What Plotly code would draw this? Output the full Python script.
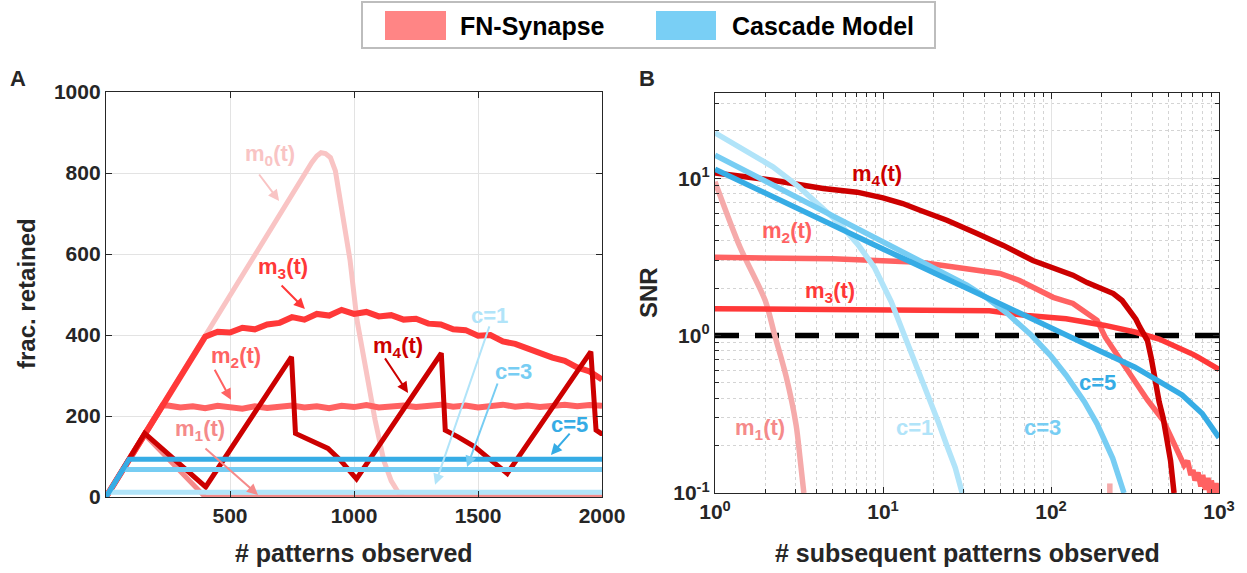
import math
import plotly.graph_objects as go

W, H = 1247, 573
FONT = "Liberation Sans, Arial, Helvetica, sans-serif"
INK = "#262626"

# ---------------- Panel A: fraction retained vs. patterns observed ----------------
a_m0_t = [0, 400, 600, 800, 830, 850, 867, 885, 905, 925, 943, 984, 1012, 1050, 1085, 1120, 1150, 1180, 1200, 2000]
a_m0_v = [0, 400, 600, 800, 826, 842, 850, 848, 838, 805, 733, 585, 437, 300, 190, 90, 40, 10, 0, 0]

a_m1_t = [0, 155, 400, 2000]
a_m1_v = [0, 155, 0, 0]

a_m2_t = [0, 228, 250, 300, 350, 400, 450, 500, 550, 600, 650, 700, 750, 800, 850, 900, 950, 1000,
          1050, 1100, 1150, 1200, 1250, 1300, 1350, 1400, 1450, 1500, 1550, 1600, 1650, 1700,
          1750, 1800, 1850, 1900, 1950, 2000]
a_m2_v = [0, 226, 226, 221, 224, 219, 225, 221, 218, 224, 220, 223, 226, 221, 224, 219, 225, 222,
          227, 221, 224, 226, 222, 225, 228, 223, 226, 221, 225, 228, 223, 226,
          222, 225, 228, 224, 227, 225]

a_m3_t = [0, 400, 450, 500, 550, 600, 650, 700, 750, 800, 850, 900, 950, 1000, 1050, 1100, 1150,
          1200, 1250, 1300, 1350, 1400, 1450, 1500, 1550, 1600, 1650, 1700, 1750, 1800, 1850,
          1900, 1950, 2000]
a_m3_v = [0, 396, 408, 406, 418, 414, 426, 430, 444, 438, 452, 448, 462, 452, 457, 446, 449,
          438, 440, 428, 426, 414, 412, 398, 400, 384, 378, 366, 356, 344, 336,
          320, 310, 290]

a_m4_t = [0, 156, 402, 748, 764, 830, 895, 945, 1010, 1352, 1368, 1421, 1487, 1552, 1618, 1955, 1976, 1996, 2000]
a_m4_v = [0, 157, 25, 346, 157, 140, 120, 91, 45, 355, 165, 148, 124, 91, 58, 359, 165, 157, 157]

a_c1_t = [0, 12, 2000]
a_c1_v = [0, 12, 12]
a_c3_t = [0, 68, 2000]
a_c3_v = [0, 68, 68]
a_c5_t = [0, 93, 2000]
a_c5_v = [0, 93, 93]

a_xticks = [500, 1000, 1500, 2000]
a_yticks = [0, 200, 400, 600, 800, 1000]

# ---------------- Panel B: SNR vs. subsequent patterns (log-log) ----------------
b_m1_x = [1, 1.41, 1.99, 2.27, 2.65, 3.04, 3.2, 3.38, None, 224, 224]
b_m1_y = [9.5, 3.64, 1.67, 1.0, 0.55, 0.27, 0.17, 0.1, None, 0.1, 0.115]

b_m2_x = [1, 5, 16.6, 32.9, 49.6, 65, 86, 103, 135, 164, 188, 210, 260, 320, 375, 465, 540,
          560, 590, 620, 650, 680, 700, 720, 750, 780, 800, 830, 860, 880, 900, 930, 960, 1000]
b_m2_y = [3.14, 3.08, 2.92, 2.67, 2.48, 2.24, 1.93, 1.75, 1.6, 1.38, 1.25, 0.98, 0.69, 0.49, 0.39, 0.29, 0.21,
          0.19, 0.17, 0.15, 0.16, 0.13, 0.14, 0.12, 0.135, 0.11, 0.13, 0.105, 0.125, 0.10, 0.12, 0.10, 0.115, 0.10]

b_m3_x = [1, 10, 43, 72, 123, 210, 320, 440, 520, 600, 650, 700, 750, 800, 850, 900, 950, 1000]
b_m3_y = [1.48, 1.46, 1.44, 1.34, 1.28, 1.16, 1.05, 0.95, 0.88, 0.82, 0.80, 0.76, 0.73, 0.70, 0.68, 0.66, 0.63, 0.61]

b_m4_x = [1, 2.21, 4.4, 7.0, 10, 13.1, 16.6, 24, 36, 52, 78, 103, 135, 164, 200, 235, 265, 295, 320,
          338, 360, 375, 395, 417, 440, 465, 490, 515, 540]
b_m4_y = [10.8, 9.7, 8.6, 8.15, 7.5, 6.9, 6.25, 5.4, 4.47, 3.74, 3.0, 2.71, 2.42, 2.17, 2.0, 1.85, 1.67, 1.44, 1.27,
          1.13, 1.0, 0.93, 0.72, 0.49, 0.38, 0.30, 0.21, 0.16, 0.1]

b_c1_x = [1, 1.585, 2.21, 3.16, 4.47, 5.5, 7.08, 8.91, 11.2, 13.5, 15.8, 18.4, 21.4, 24.0, 26.9, 29.6]
b_c1_y = [19.4, 14.6, 11.8, 8.8, 6.4, 5.16, 3.8, 2.7, 1.64, 1.0, 0.65, 0.43, 0.28, 0.2, 0.145, 0.1]

b_c3_x = [1, 3.16, 10, 22.1, 31.6, 41, 55, 76.7, 100, 123, 158, 188, 233, 272]
b_c3_y = [14.0, 7.48, 3.99, 2.59, 2.09, 1.75, 1.38, 1.0, 0.74, 0.56, 0.38, 0.275, 0.166, 0.1]

b_c5_x = [1, 3.16, 10, 31.6, 78, 123, 200, 316, 447, 603, 794, 1000]
b_c5_y = [11.4, 6.3, 3.55, 2.0, 1.26, 1.0, 0.79, 0.63, 0.51, 0.42, 0.32, 0.225]

b_threshold = 1.0
b_xticks = [1, 10, 100, 1000]
b_xticktext = ["10<sup>0</sup>", "10<sup>1</sup>", "10<sup>2</sup>", "10<sup>3</sup>"]
b_yticks = [0.1, 1, 10]
b_yticktext = ["10<sup>-1</sup>", "10<sup>0</sup>", "10<sup>1</sup>"]
b_xminor = [2, 3, 4, 5, 6, 7, 8, 9, 20, 30, 40, 50, 60, 70, 80, 90,
            200, 300, 400, 500, 600, 700, 800, 900]
b_yminor = [0.2, 0.3, 0.4, 0.5, 0.6, 0.7, 0.8, 0.9, 2, 3, 4, 5, 6, 7, 8, 9, 20, 30]

# ---------------- colours ----------------
C_M0 = "#F9C4C4"
C_M1 = "#F58A8A"
C_M1B = "#F5AAAA"
C_M2 = "#FF6262"
C_M3 = "#FF3838"
C_M4 = "#CC0000"
C_C1 = "#B1E4F9"
C_C3 = "#77CDF3"
C_C5 = "#36ACE5"
LEG_FN = "#FF8585"
LEG_CA = "#79CFF5"


def px(x):
    return x / W


def py(y):
    return 1 - y / H


fig = go.Figure()


def line(xs, ys, color, width, xa, ya, dash=None, smooth=False):
    fig.add_trace(go.Scatter(
        x=xs, y=ys, mode="lines", xaxis=xa, yaxis=ya, showlegend=False, hoverinfo="skip",
        line=dict(color=color, width=width, dash=dash,
                  shape="spline" if smooth else "linear", smoothing=0.8 if smooth else None),
        connectgaps=False,
    ))


# Panel A curves (synapse states underneath, cascade levels on top)
line(a_m0_t, a_m0_v, C_M0, 5, "x", "y")
line(a_m1_t, a_m1_v, C_M1, 5, "x", "y")
line(a_m2_t, a_m2_v, C_M2, 6, "x", "y")
line(a_m3_t, a_m3_v, C_M3, 6, "x", "y")
line(a_m4_t, a_m4_v, C_M4, 5, "x", "y")
line(a_c1_t, a_c1_v, C_C1, 5, "x", "y")
line(a_c3_t, a_c3_v, C_C3, 5, "x", "y")
line(a_c5_t, a_c5_v, C_C5, 5, "x", "y")

# Panel B curves
line([1, 1000], [b_threshold, b_threshold], "#000000", 5.5, "x2", "y2", dash="24px,16px")
line(b_m1_x, b_m1_y, C_M1B, 5.5, "x2", "y2", smooth=True)
line(b_m2_x, b_m2_y, C_M2, 5.5, "x2", "y2")
line(b_m3_x, b_m3_y, C_M3, 5.5, "x2", "y2")
line(b_m4_x, b_m4_y, C_M4, 5.5, "x2", "y2")
line(b_c1_x, b_c1_y, C_C1, 5.5, "x2", "y2")
line(b_c3_x, b_c3_y, C_C3, 5.5, "x2", "y2")
line(b_c5_x, b_c5_y, C_C5, 5.5, "x2", "y2")

tickfont = dict(family=FONT, size=21, color=INK, weight="bold")
axis_common = dict(
    showline=True, linecolor=INK, linewidth=1.3, mirror="allticks",
    ticks="inside", ticklen=6, tickwidth=1.2, tickcolor=INK,
    tickfont=tickfont, zeroline=False, automargin=False,
    showgrid=True, gridcolor="#E3E3E3", gridwidth=1,
)
minor_x = dict(tickvals=b_xminor, ticks="inside", ticklen=4, tickwidth=1, tickcolor=INK,
               showgrid=True, gridcolor="#D4D4D4", griddash="dot", gridwidth=1)
minor_y = dict(tickvals=b_yminor, ticks="inside", ticklen=4, tickwidth=1, tickcolor=INK,
               showgrid=True, gridcolor="#D4D4D4", griddash="dot", gridwidth=1)

fig.update_layout(
    width=W, height=H, autosize=False,
    margin=dict(l=0, r=0, t=0, b=0, pad=0, autoexpand=False),
    paper_bgcolor="white", plot_bgcolor="white",
    xaxis=dict(domain=[px(106), px(602)], range=[0, 2000], tickvals=a_xticks,
               anchor="y", **axis_common),
    yaxis=dict(domain=[py(497), py(92)], range=[0, 1000], tickvals=a_yticks,
               anchor="x", **axis_common),
    xaxis2=dict(domain=[px(715), px(1219)], type="log", range=[0, 3],
                tickvals=b_xticks, ticktext=b_xticktext, anchor="y2",
                minor=minor_x, **axis_common),
    yaxis2=dict(domain=[py(493), py(93)], type="log", range=[-1, 1.541],
                tickvals=b_yticks, ticktext=b_yticktext, anchor="x2",
                minor=minor_y, **axis_common),
)

anns = []


def text_paper(x, y, s, size=22, color=INK, angle=0):
    anns.append(dict(xref="paper", yref="paper", x=px(x), y=py(y), text=s, showarrow=False,
                     textangle=angle, xanchor="center", yanchor="middle",
                     font=dict(family=FONT, size=size, color=color, weight="bold")))


# panel letters and axis titles
text_paper(18, 78, "A", size=22)
text_paper(647, 78, "B", size=22)
text_paper(26, 294, "frac. retained", size=24, angle=-90)
text_paper(354, 553, "# patterns observed", size=25)
text_paper(648, 293, "SNR", size=24, angle=-90)
text_paper(967, 553, "# subsequent patterns observed", size=25)


def label_a(x, y, s, color):
    anns.append(dict(xref="x", yref="y", x=x, y=y, text=s, showarrow=False,
                     font=dict(family=FONT, size=22, color=color, weight="bold")))


def arrow_a(x0, y0, x1, y1, color):
    anns.append(dict(xref="x", yref="y", axref="x", ayref="y", x=x1, y=y1, ax=x0, ay=y0,
                     text="", showarrow=True, arrowhead=2, arrowsize=1.1, arrowwidth=2,
                     arrowcolor=color, standoff=0, startstandoff=0))


label_a(661, 844, "m<sub>0</sub>(t)", C_M0)
arrow_a(613, 800, 698, 731, C_M0)
label_a(714, 565, "m<sub>3</sub>(t)", C_M3)
arrow_a(702, 526, 802, 464, C_M3)
label_a(524, 346, "m<sub>2</sub>(t)", C_M2)
arrow_a(435, 318, 504, 240, C_M2)
label_a(379, 165, "m<sub>1</sub>(t)", C_M1)
arrow_a(395, 123, 613, 5, C_M1)
label_a(1177, 370, "m<sub>4</sub>(t)", C_M4)
arrow_a(1121, 346, 1218, 257, C_M4)
label_a(1548, 449, "c=1", C_C1)
arrow_a(1548, 425, 1327, 30, C_C1)
label_a(1645, 309, "c=3", C_C3)
arrow_a(1581, 284, 1456, 74, C_C3)
label_a(1867, 180, "c=5", C_C5)
arrow_a(1875, 160, 1794, 104, C_C5)


def label_b(x, y, s, color):
    anns.append(dict(xref="x2", yref="y2", x=math.log10(x), y=math.log10(y), text=s,
                     showarrow=False, font=dict(family=FONT, size=22, color=color, weight="bold")))


label_b(9.2, 10.4, "m<sub>4</sub>(t)", C_M4)
label_b(2.68, 4.53, "m<sub>2</sub>(t)", C_M2)
label_b(4.84, 1.88, "m<sub>3</sub>(t)", C_M3)
label_b(1.85, 0.256, "m<sub>1</sub>(t)", C_M1)
label_b(15.3, 0.259, "c=1", C_C1)
label_b(88.4, 0.259, "c=3", C_C3)
label_b(190, 0.502, "c=5", C_C5)

# legend box drawn in page coordinates
shapes = [
    dict(type="rect", xref="paper", yref="paper", x0=px(362), x1=px(935), y0=py(48), y1=py(2),
         line=dict(color="#BDBDBD", width=2), fillcolor="white", layer="above"),
    dict(type="rect", xref="paper", yref="paper", x0=px(385), x1=px(446), y0=py(40), y1=py(11),
         line=dict(width=0), fillcolor=LEG_FN, layer="above"),
    dict(type="rect", xref="paper", yref="paper", x0=px(656), x1=px(716), y0=py(40), y1=py(11),
         line=dict(width=0), fillcolor=LEG_CA, layer="above"),
]
anns.append(dict(xref="paper", yref="paper", x=px(458), y=py(26), text="FN-Synapse",
                 showarrow=False, xanchor="left", yanchor="middle",
                 font=dict(family=FONT, size=25, color="#000000", weight="bold")))
anns.append(dict(xref="paper", yref="paper", x=px(730), y=py(26), text="Cascade Model",
                 showarrow=False, xanchor="left", yanchor="middle",
                 font=dict(family=FONT, size=25, color="#000000", weight="bold")))

fig.update_layout(annotations=anns, shapes=shapes)
fig.write_html("out.html")
